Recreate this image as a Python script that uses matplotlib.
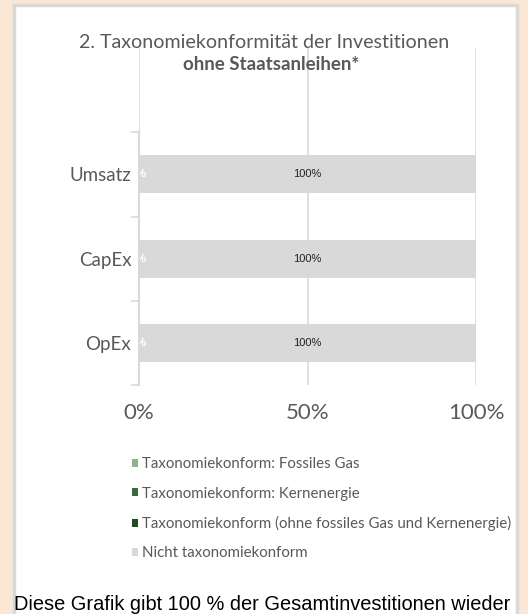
import matplotlib
matplotlib.use("Agg")
import matplotlib.pyplot as plt
from matplotlib.patches import Rectangle
import numpy as np

categories = ["OpEx", "CapEx", "Umsatz"]
series_names = [
    "Taxonomiekonform: Fossiles Gas",
    "Taxonomiekonform: Kernenergie",
    "Taxonomiekonform (ohne fossiles Gas und Kernenergie)",
    "Nicht taxonomiekonform",
]
gas = [0, 0, 0]
nuclear = [0, 0, 0]
taxo = [0, 0, 0]
non_taxo = [100, 100, 100]
x_ticks = [0, 50, 100]
x_tick_labels = ["0%", "50%", "100%"]

colors = ["#8DB38D", "#3A6B3A", "#1E4D1E", "#D9D9D9"]
FONT = "Lato"
GREY = "#595959"

W, H = 528, 614
fig = plt.figure(figsize=(W / 100, H / 100), dpi=100)
fig.patch.set_facecolor("#FBE7D5")

# white panel with light border
panel = Rectangle((14 / W, -0.01), (517 - 14) / W, 1.01 - 5 / H, transform=fig.transFigure,
                  facecolor="white", edgecolor="#D9D9D9", linewidth=2.5, zorder=-10)
fig.patches.append(panel)

ax = fig.add_axes([139 / W, 1 - 385 / H, (476 - 139) / W, (385 - 48) / H])
ax.set_facecolor("none")
ax.set_zorder(1)

y = np.arange(len(categories))
series = [gas, nuclear, taxo, non_taxo]
left = np.zeros(len(categories))
for name, vals, col in zip(series_names, series, colors):
    vals = np.array(vals, dtype=float)
    bars = ax.barh(y, vals, left=left, height=0.45, color=col, label=name, zorder=2)
    for b, v, l in zip(bars, vals, left):
        cx = l + v / 2
        tcol = "#222222" if v >= 50 else "white"
        ax.text(cx, b.get_y() + b.get_height() / 2, f"{v:.0f}%", ha="center", va="center",
                fontsize=8, color=tcol, family="Liberation Sans", zorder=3)
    left = left + vals

ax.set_xlim(0, 100)
ax.set_ylim(-0.5, len(categories) + 0.5)
ax.set_xticks(x_ticks)
ax.set_xticklabels(x_tick_labels, fontsize=16, color=GREY, family=FONT)
ax.tick_params(axis="x", length=0, pad=13)
ax.set_yticks(y)
ax.set_yticklabels(categories, fontsize=13.5, color=GREY, family=FONT)
ax.tick_params(axis="y", length=0, pad=5.5)
ax.set_yticks(np.arange(-0.5, len(categories), 1.0), minor=True)
ax.tick_params(axis="y", which="minor", length=6, color="#D9D9D9", width=1.2)
ax.grid(axis="x", color="#D9D9D9", linewidth=1.2, zorder=0)
for s in ["top", "right", "bottom"]:
    ax.spines[s].set_visible(False)
ax.spines["left"].set_color("#D9D9D9")
ax.spines["left"].set_linewidth(1.5)
ax.spines["left"].set_bounds(-0.5, len(categories) - 0.5)
ax.spines["left"].set_zorder(4)

fig.text(264 / W, 1 - 42 / H, "2. Taxonomiekonformität der Investitionen", ha="center", va="center",
         fontsize=14.1, color=GREY, family=FONT)
fig.text(271 / W, 1 - 64 / H, "ohne Staatsanleihen*", ha="center", va="center",
         fontsize=13.5, color=GREY, family=FONT, fontweight="bold")

handles, labels = ax.get_legend_handles_labels()
leg = fig.legend(handles, labels, loc="upper left", bbox_to_anchor=(118 / W, 1 - 444 / H),
                 frameon=False, prop={"family": FONT, "size": 10.8}, labelcolor=GREY,
                 handlelength=0.45, handleheight=0.45, handletextpad=0.25, labelspacing=1.02)

fig.text(14 / W, 1 - 604 / H, "Diese Grafik gibt 100 % der Gesamtinvestitionen wieder",
         ha="left", va="center", fontsize=14.4, color="black", family="Liberation Sans")

fig.savefig("out.png", dpi=100, facecolor=fig.get_facecolor())
